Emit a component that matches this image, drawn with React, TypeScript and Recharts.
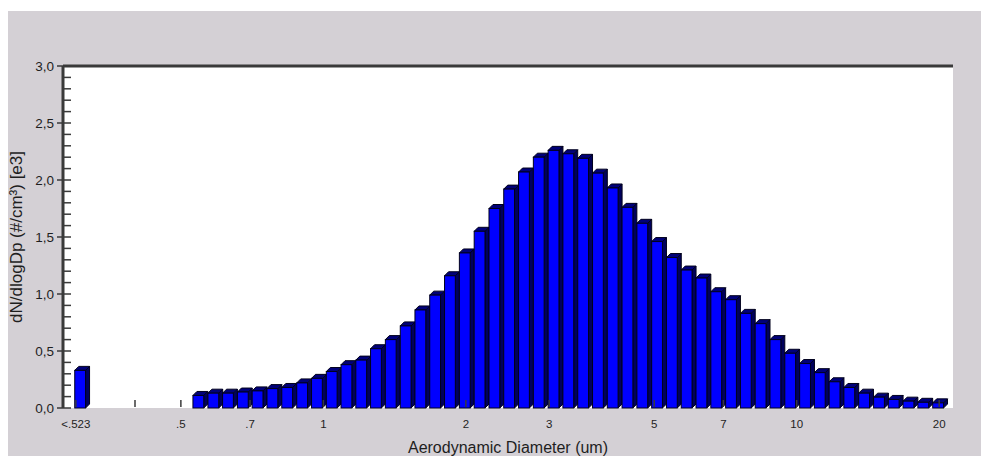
import { ComposedChart, Bar, XAxis, YAxis, CartesianGrid, ReferenceLine } from "recharts";

// APS size distribution: under-range bin plus 51 channels (midpoint diameters, um)
const underRangeLabel = "<.523";
const underRangePosition = 0.305;
const underRangeCount = 0.33;

const channelDiameters = [
  0.542, 0.583, 0.626, 0.673, 0.723, 0.777, 0.835, 0.898, 0.965, 1.037,
  1.114, 1.197, 1.286, 1.382, 1.486, 1.596, 1.715, 1.843, 1.981, 2.129,
  2.288, 2.458, 2.642, 2.839, 3.051, 3.278, 3.523, 3.786, 4.068, 4.371,
  4.698, 5.048, 5.425, 5.829, 6.264, 6.732, 7.234, 7.774, 8.354, 8.977,
  9.647, 10.37, 11.14, 11.97, 12.86, 13.82, 14.86, 15.96, 17.15, 18.43,
  19.81,
];

// dN/dlogDp in thousands per cm3
const channelCounts = [
  0.11, 0.13, 0.13, 0.14, 0.15, 0.17, 0.18, 0.22, 0.26, 0.32,
  0.38, 0.42, 0.52, 0.60, 0.72, 0.86, 0.99, 1.16, 1.36, 1.55,
  1.75, 1.92, 2.07, 2.20, 2.26, 2.23, 2.19, 2.06, 1.93, 1.76,
  1.62, 1.46, 1.32, 1.21, 1.14, 1.02, 0.95, 0.83, 0.74, 0.60,
  0.48, 0.39, 0.31, 0.23, 0.18, 0.13, 0.095, 0.075, 0.06, 0.05,
  0.045,
];

const xTicks = [0.3, 0.4, 0.5, 0.7, 1, 2, 3, 5, 7, 10, 20];
const xTickLabels = [underRangeLabel, "", ".5", ".7", "1", "2", "3", "5", "7", "10", "20"];

const yTicks = [
  0, 0.1, 0.2, 0.3, 0.4, 0.5, 0.6, 0.7, 0.8, 0.9, 1.0, 1.1, 1.2, 1.3, 1.4, 1.5,
  1.6, 1.7, 1.8, 1.9, 2.0, 2.1, 2.2, 2.3, 2.4, 2.5, 2.6, 2.7, 2.8, 2.9, 3.0,
];

const data = [
  { dp: underRangePosition, count: underRangeCount },
  ...channelDiameters.map((dp, i) => ({ dp, count: channelCounts[i] })),
];

const FONT = "'Liberation Sans', Arial, sans-serif";
const AXIS = "#3a3a3a";
const TEXT = "#1e1e1e";

// front face + top + right side, depth pushed up and to the right
function Bar3D(props: any) {
  const { x, y, width, height } = props;
  if (!height || height <= 0) return null;
  const cx = x + width / 2;
  const left = cx - 4.2;
  const right = cx + 6.6;
  const base = y + height;
  const d = 4;
  return (
    <g>
      <polygon
        points={`${right},${y} ${right + d},${y - d} ${right + d},${base - d} ${right},${base}`}
        fill="#00005c"
        stroke="#00001c"
        strokeWidth={1}
      />
      <polygon
        points={`${left},${y} ${left + d},${y - d} ${right + d},${y - d} ${right},${y}`}
        fill="#000078"
        stroke="#00001c"
        strokeWidth={1}
      />
      <rect x={left} y={y} width={right - left} height={height} fill="#0000ff" stroke="#00001c" strokeWidth={1} />
    </g>
  );
}

function YTick(props: any) {
  const { x, y, payload } = props;
  const v = payload.value as number;
  const major = Math.abs(v * 2 - Math.round(v * 2)) < 1e-6;
  return (
    <g>
      <line x1={major ? x - 6 : x} x2={x + 8} y1={y} y2={y} stroke={AXIS} strokeWidth={1.5} />
      {major && (
        <text x={x - 9} y={y} dy="0.36em" textAnchor="end" fontSize={13.5} fill={TEXT} fontFamily={FONT}>
          {v.toFixed(1).replace(".", ",")}
        </text>
      )}
    </g>
  );
}

function XTick(props: any) {
  const { x, y, payload } = props;
  const label = xTickLabels[xTicks.indexOf(payload.value)];
  return (
    <g>
      <line x1={x} x2={x} y1={y - 8} y2={y - 1} stroke={AXIS} strokeWidth={1.5} />
      <text x={x} y={y + 20} textAnchor="middle" fontSize={11.5} fill={TEXT} fontFamily={FONT}>
        {label}
      </text>
    </g>
  );
}

export default function App() {
  return (
    <div style={{ paddingTop: 3, fontFamily: FONT }}>
      <div style={{ width: 981, height: 445, background: "#d4d0d5" }}>
        <ComposedChart
          width={981}
          height={445}
          data={data}
          margin={{ top: 55, right: 36, bottom: 3, left: 0 }}
        >
          <CartesianGrid fill="#ffffff" horizontal={false} vertical={false} />
          <XAxis
            dataKey="dp"
            type="number"
            scale="log"
            domain={[0.2818, 21.39]}
            allowDataOverflow
            ticks={xTicks}
            interval={0}
            height={45}
            axisLine={false}
            tickLine={false}
            tickSize={0}
            tickMargin={0}
            tick={<XTick />}
            label={{
              value: "Aerodynamic Diameter (um)",
              position: "insideBottom",
              offset: 0,
              style: { fontSize: 16, fill: TEXT },
            }}
          />
          <YAxis
            domain={[0, 3]}
            ticks={yTicks}
            interval={0}
            width={55}
            axisLine={{ stroke: AXIS, strokeWidth: 3 }}
            tickLine={false}
            tickSize={0}
            tickMargin={0}
            tick={<YTick />}
            label={{
              value: "dN/dlogDp (#/cm³) [e3]",
              angle: -90,
              position: "insideLeft",
              offset: 8,
              style: { textAnchor: "middle", fontSize: 17, fill: TEXT },
            }}
          />
          <ReferenceLine y={3} stroke={AXIS} strokeWidth={3} />
          <Bar dataKey="count" barSize={14} shape={<Bar3D />} isAnimationActive={false} />
        </ComposedChart>
      </div>
    </div>
  );
}
